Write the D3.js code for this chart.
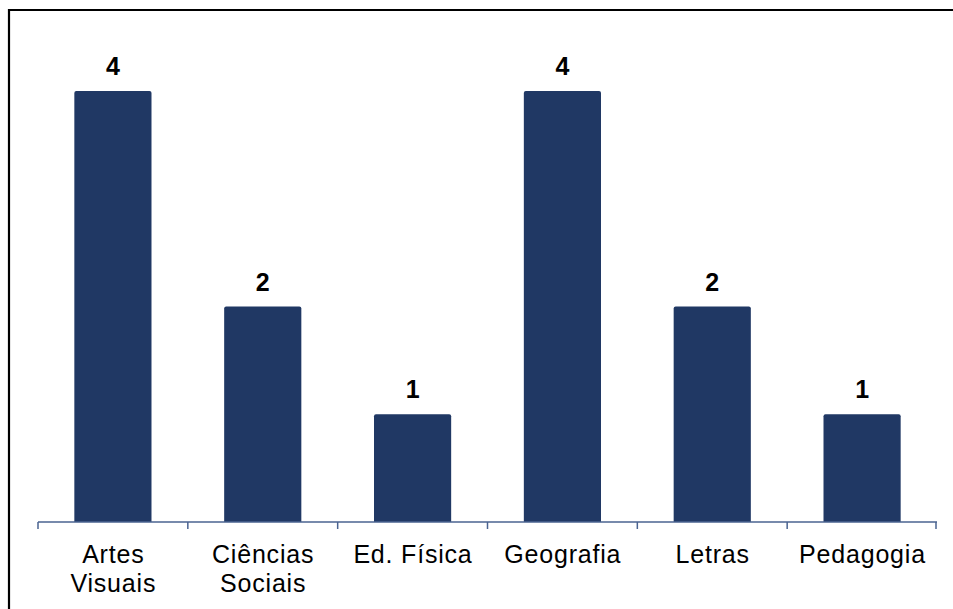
<!DOCTYPE html>
<html>
<head>
<meta charset="utf-8">
<script src="https://cdn.jsdelivr.net/npm/d3@7"></script>
<style>
  html, body { margin: 0; padding: 0; background: #fff; }
  svg { display: block; }
</style>
</head>
<body>
<svg id="chart" width="953" height="609"></svg>
<script>
const categories = [["Artes", "Visuais"], ["Ciências", "Sociais"], ["Ed. Física"], ["Geografia"], ["Letras"], ["Pedagogia"]];
const values = [4, 2, 1, 4, 2, 1];

const svg = d3.select("#chart");
const W = 953, H = 609;
const baseY = 522;

// frame (only left and top edges visible)
svg.append("path")
  .attr("d", `M9,${H} L9,10 L${W},10`)
  .attr("fill", "none").attr("stroke", "#000").attr("stroke-width", 2.2);

const keys = categories.map((c, i) => i);
const x = d3.scaleBand().domain(keys).range([38, 937]).paddingInner(0.485).paddingOuter(0.2425);
const xOuter = d3.scaleBand().domain(keys).range([38, 937]);
const y = d3.scaleLinear().domain([0, 4]).range([baseY, 91]);

// bars
svg.append("g").selectAll("path").data(values).join("path")
  .attr("fill", "#203864")
  .attr("d", (d, i) => {
    const x0 = x(i), x1 = x(i) + x.bandwidth(), y0 = y(d), y1 = baseY, r = 2;
    return `M${x0},${y1} L${x0},${y0 + r} Q${x0},${y0} ${x0 + r},${y0} L${x1 - r},${y0} Q${x1},${y0} ${x1},${y0 + r} L${x1},${y1} Z`;
  });

// value labels
svg.append("g").selectAll("text").data(values).join("text")
  .attr("x", (d, i) => x(i) + x.bandwidth() / 2)
  .attr("y", d => y(d) - 16)
  .attr("text-anchor", "middle")
  .attr("font-family", "Liberation Sans, Arial, sans-serif")
  .attr("font-weight", "bold")
  .attr("font-size", 25)
  .attr("fill", "#000")
  .text(d => d);

// axis line and ticks
const axisG = svg.append("g");
axisG.append("line").attr("x1", 38).attr("x2", 937).attr("y1", baseY).attr("y2", baseY)
  .attr("stroke", "#4a6391").attr("stroke-width", 1.5);
const tickPos = keys.map(i => xOuter(i)).concat([xOuter(keys.length - 1) + xOuter.bandwidth()]);
axisG.selectAll("line.tick").data(tickPos).join("line").attr("class", "tick")
  .attr("x1", d => Math.min(d, 936)).attr("x2", d => Math.min(d, 936))
  .attr("y1", baseY).attr("y2", baseY + 7)
  .attr("stroke", "#4a6391").attr("stroke-width", 1.5);

// category labels
const lab = svg.append("g").selectAll("text").data(categories).join("text")
  .attr("x", (d, i) => xOuter(i) + xOuter.bandwidth() / 2)
  .attr("y", 563)
  .attr("text-anchor", "middle")
  .attr("font-family", "Liberation Sans, Arial, sans-serif")
  .attr("font-size", 25)
  .style("letter-spacing", "0.8px")
  .attr("fill", "#000");
lab.selectAll("tspan").data((d, i) => d.map(t => ({ t, i }))).join("tspan")
  .attr("x", d => xOuter(d.i) + xOuter.bandwidth() / 2 + 0.4)
  .attr("dy", (d, j) => j === 0 ? 0 : 29)
  .text(d => d.t);
</script>
</body>
</html>
